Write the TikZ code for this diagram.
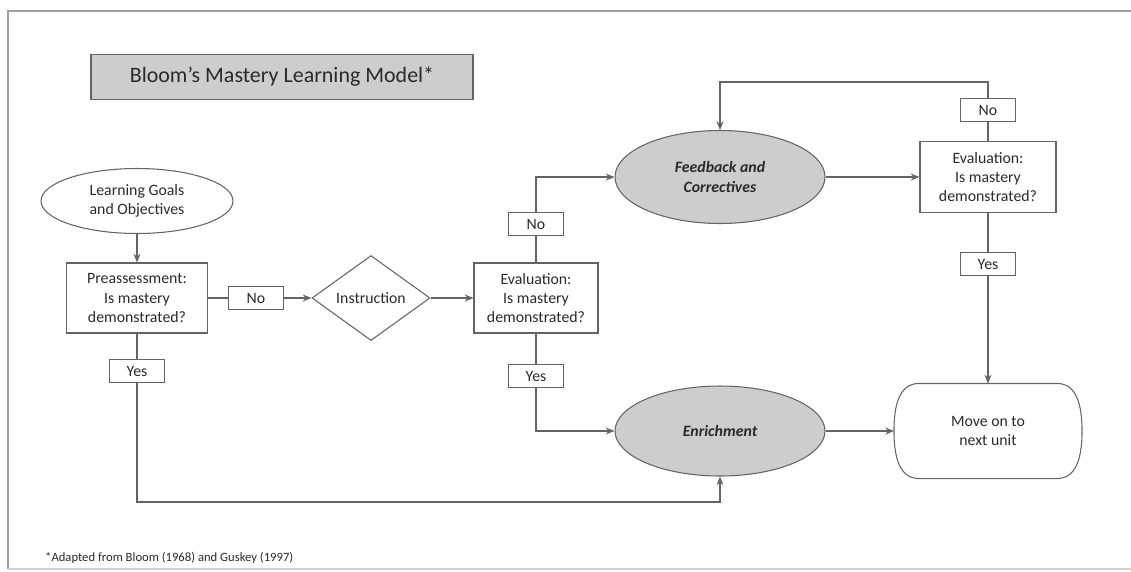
\documentclass[tikz,border=0pt]{standalone}
\usepackage{fontspec}
\setmainfont{Carlito}
\usetikzlibrary{arrows.meta,shapes.geometric}

\definecolor{linegray}{HTML}{646464}
\definecolor{textdark}{HTML}{2A2A2A}
\definecolor{fillgray}{HTML}{CDCDCD}
\definecolor{framegray}{HTML}{A0A0A0}
\newcommand{\boxfont}{\fontsize{9}{11}\selectfont}

\begin{document}
\begin{tikzpicture}[
    box/.style={
        draw=linegray,
        line width=0.6pt,
        align=center,
        font=\boxfont,
        text=textdark,
        inner sep=1pt
    },
    tag/.style={
        draw=linegray,
        line width=0.6pt,
        minimum width=1.1cm,
        minimum height=0.46cm,
        inner sep=0pt,
        font=\boxfont,
        text=textdark
    },
    oval/.style={
        ellipse,
        draw=linegray,
        line width=0.6pt,
        align=center,
        inner sep=0pt,
        font=\boxfont,
        text=textdark
    },
    arrow/.style={-{Stealth[length=5pt,width=4pt]}, draw=linegray, line width=0.6pt},
    link/.style={draw=linegray, line width=0.6pt}
]
\useasboundingbox (0,0) rectangle (22.62,-11.42);

%==========================
% Frame and title
%==========================
\draw[framegray, line width=1.2pt] (22.62,-0.22) -- (0.16,-0.22) -- (0.16,-11.38);
\draw[framegray!50, line width=0.6pt] (0.16,-11.38) -- (22.62,-11.38);

\node[box, fill=fillgray, minimum width=7.64cm, minimum height=0.9cm,
      font=\fontsize{12.5}{15}\selectfont] (title) at (5.64,-1.54)
{Bloom’s Mastery Learning Model*};

%==========================
% Left column
%==========================
\node[oval, minimum width=3.84cm, minimum height=1.3cm] (goals) at (2.74,-4.02)
{Learning Goals\\and Objectives};
\node[box, minimum width=2.82cm, minimum height=1.4cm] (pre) at (2.74,-5.96)
{Preassessment:\\Is mastery\\demonstrated?};
\node[tag] (no1)  at (5.12,-5.96) {No};
\node[tag] (yes1) at (2.74,-7.42) {Yes};

\draw[arrow] (goals) -- (pre);
\draw[link] (pre) -- (no1);

%==========================
% Instruction and evaluation
%==========================
\node[box, diamond, inner sep=0pt, minimum width=2.36cm, minimum height=1.7cm] (instr) at (7.42,-5.96)
{Instruction};
\node[box, minimum width=2.48cm, minimum height=1.4cm] (eval1) at (10.72,-5.96)
{Evaluation:\\Is mastery\\demonstrated?};
\node[tag] (no2)  at (10.72,-4.48) {No};
\node[tag] (yes2) at (10.72,-7.52) {Yes};

\draw[arrow] (no1) -- (instr);
\draw[arrow] (instr) -- (eval1);
\draw[link] (eval1) -- (no2);
\draw[link] (eval1) -- (yes2);

%==========================
% Feedback and enrichment
%==========================
\node[oval, fill=fillgray, minimum width=4.2cm, minimum height=1.86cm,
      font=\boxfont\bfseries\itshape] (feed) at (14.4,-3.54)
{Feedback and\\Correctives};
\node[oval, fill=fillgray, minimum width=4.2cm, minimum height=1.8cm,
      font=\boxfont\bfseries\itshape] (enrich) at (14.4,-8.62)
{Enrichment};

\draw[arrow] (no2) |- (feed);
\draw[arrow] (yes2) |- (enrich);

%==========================
% Right column
%==========================
\node[box, minimum width=2.72cm, minimum height=1.42cm] (eval2) at (19.76,-3.54)
{Evaluation:\\Is mastery\\demonstrated?};
\node[tag] (no3)  at (19.76,-2.2)  {No};
\node[tag] (yes3) at (19.76,-5.28) {Yes};
\node[box, draw=none, minimum width=3.74cm, minimum height=1.88cm] (move) at (19.76,-8.62)
{Move on to\\next unit};
% outline with soft bulging ends
\draw[link] ([xshift=0.5cm]move.north west) -- ([xshift=-0.5cm]move.north east)
    .. controls ([xshift=-0.1cm]move.north east) and ([yshift=-0.45cm]move.north east) .. (move.east)
    .. controls ([yshift=0.45cm]move.south east) and ([xshift=-0.1cm]move.south east) .. ([xshift=-0.5cm]move.south east)
    -- ([xshift=0.5cm]move.south west)
    .. controls ([xshift=0.1cm]move.south west) and ([yshift=0.45cm]move.south west) .. (move.west)
    .. controls ([yshift=-0.45cm]move.north west) and ([xshift=0.1cm]move.north west) .. cycle;

\coordinate (looptop) at (14.4,-1.64);
\coordinate (loopbot) at (14.4,-10.04);

\draw[arrow] (feed) -- (eval2);
\draw[link] (eval2) -- (no3);
\draw[arrow] (no3) |- (looptop) -- (feed);
\draw[link] (eval2) -- (yes3);
\draw[arrow] (yes3) -- (move);
\draw[arrow] (enrich) -- (move);
\draw[link] (pre) -- (yes1);
\draw[arrow] (yes1) |- (loopbot) -- (enrich);

% footnote
\node[anchor=west, font=\fontsize{7.2}{9}\selectfont, text=textdark] (note) at (0.78,-11.16)
{*Adapted from Bloom (1968) and Guskey (1997)};

\end{tikzpicture}
\end{document}
